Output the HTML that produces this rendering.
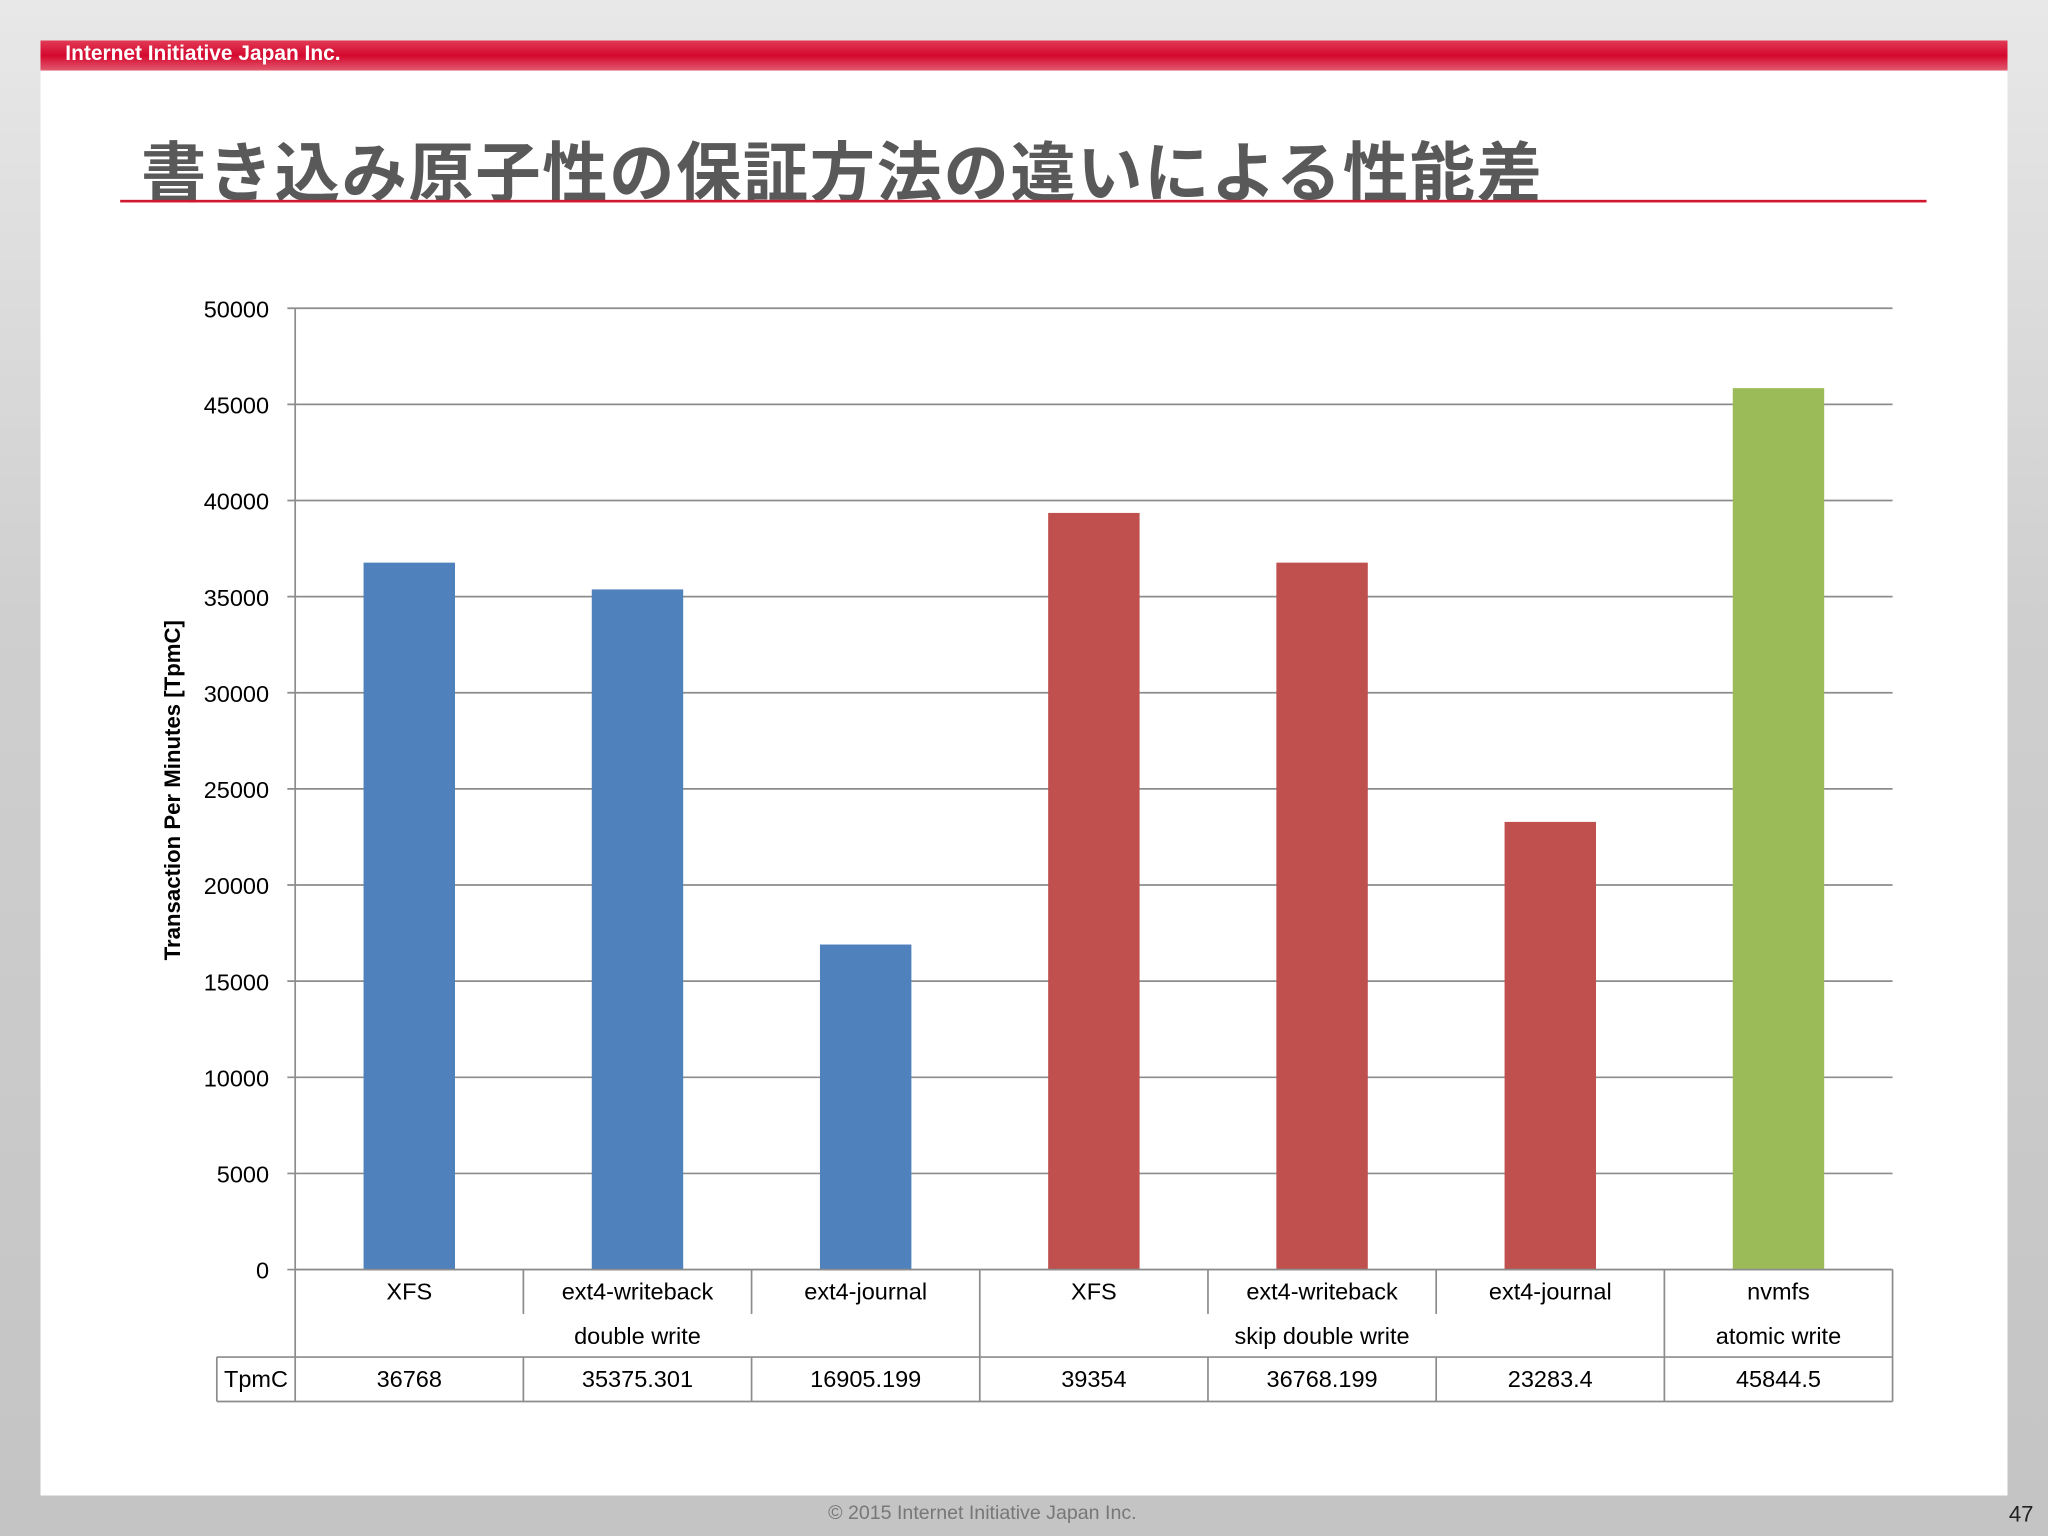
<!DOCTYPE html>
<html><head><meta charset="utf-8"><style>
html,body{margin:0;padding:0;width:2048px;height:1536px;overflow:hidden;background:#bdbdbd}
#wrap{position:absolute;left:0;top:0;width:1568px;height:1176px;transform:scale(1.306122);transform-origin:0 0;
background:linear-gradient(180deg,#e8e8e8 0%,#cfcfcf 40%,#c4c4c4 100%);font-family:"Liberation Sans","Noto Sans CJK JP",sans-serif}
#slide{position:absolute;left:31px;top:31px;width:1506px;height:1114px;background:#fff}
#bar{position:absolute;left:31px;top:31px;width:1506px;height:23px;background:linear-gradient(180deg,#e23a55,#d4082e 50%,#e25a70)}
#bar span{position:absolute;left:19px;top:2px;color:#fff;font-weight:bold;font-size:16px}
#title{position:absolute;left:108px;top:93px;font-size:50px;font-weight:bold;color:#595959;white-space:nowrap;letter-spacing:1.2px}
#uline{position:absolute;left:92px;top:153px;width:1383px;height:2px;background:#d0182e}
#foot{position:absolute;left:634px;top:1150px;font-size:15px;color:#777}
#pg{position:absolute;left:1538px;top:1150px;font-size:17px;color:#222}
svg text{font-family:"Liberation Sans",sans-serif}
</style></head><body>
<div id="wrap">
<div id="slide"></div>
<div id="bar"><span>Internet Initiative Japan Inc.</span></div>
<div id="title">書き込み原子性の保証方法の違いによる性能差</div>
<div id="uline"></div>
<svg id="chart" width="1568" height="1176" style="position:absolute;left:0;top:0"></svg>
<div id="foot">© 2015 Internet Initiative Japan Inc.</div>
<div id="pg">47</div>
</div>
<script>
const categories=["XFS","ext4-writeback","ext4-journal","XFS","ext4-writeback","ext4-journal","nvmfs"];
const values=[36768,35375.301,16905.199,39354,36768.199,23283.4,45844.5];
const valueLabels=["36768","35375.301","16905.199","39354","36768.199","23283.4","45844.5"];
const groupNames=["double write","skip double write","atomic write"];
const groupSizes=[3,3,1];
const colors=["#4f81bd","#4f81bd","#4f81bd","#c0504d","#c0504d","#c0504d","#9bbb59"];
const yTicks=[0,5000,10000,15000,20000,25000,30000,35000,40000,45000,50000];

const NS="http://www.w3.org/2000/svg";
const svg=document.getElementById('chart');
const X0=226,X1=1449,Y0=972,Y1=236,YMAX=50000;
const cw=(X1-X0)/categories.length;
const y=v=>Y0-(v/YMAX)*(Y0-Y1);
const xc=i=>X0+cw*(i+0.5);
function mk(t,a,txt){const e=document.createElementNS(NS,t);for(const k in a)e.setAttribute(k,a[k]);if(txt!==undefined)e.textContent=txt;svg.appendChild(e);return e;}

yTicks.forEach(v=>{
  const g=mk('line',{x1:X0-6,x2:X1,y1:y(v),y2:y(v),stroke:'#8c8c8c','stroke-width':1.3});
  
  
  const t=mk('text',{x:206,y:y(v)+7,'text-anchor':'end','font-size':18,fill:'#000'},String(v));
  
  
});
const ax=mk('line',{x1:X0,x2:X0,y1:Y1,y2:Y0,stroke:'#8c8c8c','stroke-width':1.3});


const yt=mk('text',{x:0,y:0,transform:'translate(138,605) rotate(-90)','text-anchor':'middle','font-size':17,'font-weight':'bold',fill:'#000'},'Transaction Per Minutes [TpmC]');



values.forEach((v,i)=>{
  const bw=70;
  const r=mk('rect',{x:xc(i)-bw/2,y:y(v),width:bw,height:Y0-y(v),fill:colors[i]});
  
  
});

const R1=1006,R2=1039,R3=1073,LX=166;
const ln=(x1,y1,x2,y2)=>{const l=mk('line',{x1,y1,x2,y2,stroke:'#8c8c8c','stroke-width':1.3});};
ln(X0,Y0,X1,Y0);ln(X1,Y0,X1,R3);ln(X0,Y0,X0,R3);
ln(LX,R2,X1,R2);ln(LX,R3,X1,R3);ln(LX,R2,LX,R3);
for(let i=1;i<categories.length;i++){ln(X0+cw*i,Y0,X0+cw*i,R1);ln(X0+cw*i,R2,X0+cw*i,R3);}
let s=0;
groupSizes.forEach((n,gi)=>{
  if(s>0)ln(X0+cw*s,R1,X0+cw*s,R2);
  const t=mk('text',{x:X0+cw*(s+n/2),y:R1+23,'text-anchor':'middle','font-size':18,fill:'#000'},groupNames[gi]);
  
  
  s+=n;
});
categories.forEach((c,i)=>{
  const t=mk('text',{x:xc(i),y:Y0+23,'text-anchor':'middle','font-size':18,fill:'#000'},c);
  
  
  const v=mk('text',{x:xc(i),y:R2+23,'text-anchor':'middle','font-size':18,fill:'#000'},valueLabels[i]);
  
  
});
const th=mk('text',{x:(LX+X0)/2,y:R2+23,'text-anchor':'middle','font-size':18,fill:'#000'},'TpmC');


</script>
</body></html>
